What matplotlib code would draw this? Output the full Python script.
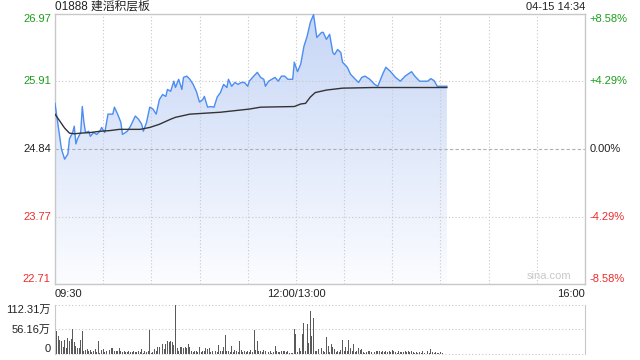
import numpy as np
import matplotlib
matplotlib.use("Agg")
import matplotlib.pyplot as plt
from matplotlib.patches import Polygon
from matplotlib.transforms import blended_transform_factory

plt.rcParams['font.family'] = ['Liberation Sans', 'Noto Sans CJK SC', 'DejaVu Sans']

# ---------------- data ----------------
title_text = "01888 建滔积层板"
stamp_text = "04-15 14:34"
prev_close = 24.84
price_ticks = [22.71, 23.77, 24.84, 25.91, 26.97]
pct_labels = ["-8.58%", "-4.29%", "0.00%", "+4.29%", "+8.58%"]
time_ticks = [0, 150, 330]
time_labels = ["09:30", "12:00/13:00", "16:00"]
vol_ticks = [0, 56.16, 112.31]
vol_labels = ["0", "56.16万", "112.31万"]
watermark = "sina.com"

# minutes since 09:30 (lunch break removed)
price_min = [0, 4, 6, 8, 9, 11, 12, 13, 14, 16, 17, 18, 19, 21, 22, 24, 26, 28, 29, 31,
             33, 36, 37, 39, 41, 42, 45, 47, 50, 52, 54, 55, 57, 59, 61, 63, 65, 67, 69, 70,
             72, 74, 75, 77, 79, 80, 82, 84, 86, 88, 90, 92, 93, 95, 97, 99, 101, 103, 105, 107,
             108, 110, 112, 114, 116, 118, 120, 121, 123, 126, 128, 130, 131, 133, 135, 137, 139, 141, 143, 145,
             146, 148, 149, 151, 153, 155, 157, 159, 161, 163, 166, 167, 169, 171, 173, 174, 176, 178, 179, 182,
             184, 187, 189, 191, 193, 196, 199, 201, 204, 206, 209, 212, 215, 218, 222, 224, 227, 232, 234, 236,
             238, 241, 244]
price = [25.56, 24.84, 24.68, 24.76, 25.00, 25.10, 25.20, 24.92, 25.00, 25.10, 25.51, 25.26, 25.10, 25.12, 25.04, 25.10, 25.07, 25.12, 25.18, 25.10,
         25.39, 25.39, 25.50, 25.39, 25.26, 25.07, 25.12, 25.20, 25.36, 25.31, 25.23, 25.12, 25.26, 25.50, 25.47, 25.39, 25.62, 25.70, 25.67, 25.78,
         25.75, 25.91, 25.81, 25.94, 25.78, 25.97, 25.99, 25.94, 25.86, 25.75, 25.58, 25.62, 25.67, 25.50, 25.51, 25.50, 25.66, 25.73, 25.86, 25.81,
         25.94, 25.83, 25.89, 25.86, 25.89, 25.89, 25.83, 25.91, 25.97, 26.05, 25.97, 25.94, 25.83, 25.91, 25.94, 25.97, 25.91, 25.99, 25.99, 25.94,
         25.94, 25.94, 26.21, 26.06, 26.18, 26.46, 26.62, 26.84, 26.96, 26.60, 26.68, 26.68, 26.57, 26.65, 26.36, 26.33, 26.41, 26.36, 26.21, 26.13,
         26.02, 25.94, 25.89, 25.97, 25.99, 25.94, 25.86, 25.83, 26.02, 26.13, 26.06, 25.97, 25.91, 25.99, 26.06, 25.99, 25.91, 25.91, 25.95, 25.92,
         25.83, 25.83, 25.83]

avg_min = [0, 3, 6, 9, 12, 16, 22, 28, 34, 40, 53, 59, 65, 72, 75, 84, 103, 121, 128, 149,
           153, 156, 159, 162, 169, 179, 198, 244]
avg = [25.39, 25.28, 25.17, 25.09, 25.08, 25.09, 25.10, 25.12, 25.13, 25.15, 25.15, 25.18, 25.23, 25.31, 25.34, 25.39, 25.42, 25.47, 25.50, 25.51,
       25.55, 25.56, 25.66, 25.73, 25.77, 25.80, 25.81, 25.81]

# volume per minute (万股), starting 09:30
vol = [90, 52, 42, 31, 29, 17, 33, 14, 36, 29, 35, 57, 27, 19, 14, 14, 33, 52, 8, 10,
       12, 8, 10, 4, 8, 12, 4, 30, 2, 10, 12, 4, 6, 16, 10, 14, 14, 8, 6, 6,
       14, 6, 4, 6, 4, 4, 6, 4, 4, 6, 4, 4, 6, 4, 12, 2, 6, 4, 6, 55,
       2, 4, 11, 6, 17, 17, 44, 24, 11, 24, 29, 27, 30, 27, 21, 112, 14, 6, 16, 15,
       14, 17, 14, 24, 16, 6, 4, 8, 8, 4, 16, 4, 6, 8, 14, 11, 14, 4, 8, 16,
       6, 4, 21, 6, 8, 16, 44, 6, 8, 4, 19, 4, 10, 6, 4, 30, 10, 4, 6, 4,
       6, 4, 10, 4, 54, 10, 30, 6, 8, 5, 10, 8, 2, 4, 6, 2, 4, 19, 6, 4,
       4, 6, 8, 8, 4, 6, 2, 2, 2, 58, 46, 4, 14, 6, 46, 72, 8, 69, 25, 99,
       42, 83, 6, 6, 11, 19, 14, 6, 4, 39, 19, 4, 24, 16, 11, 4, 6, 4, 10, 33,
       6, 16, 6, 33, 14, 6, 24, 4, 6, 14, 10, 11, 4, 2, 4, 6, 8, 4, 16, 4,
       8, 6, 8, 4, 6, 4, 6, 4, 6, 4, 10, 6, 4, 2, 6, 4, 4, 4, 6, 4,
       6, 4, 8, 4, 2, 4, 2, 4, 2, 6, 2, 4, 8, 2, 11, 4, 2, 4, 2, 2,
       4, 2]
vol_min = list(range(len(vol)))

# ---------------- figure ----------------
fig = plt.figure(figsize=(6.4, 3.6), dpi=100)
W, H = 640.0, 360.0
L, R = 55, 585
ax = fig.add_axes([L / W, (H - 284) / H, (R - L) / W, 270 / H])
axv = fig.add_axes([L / W, (H - 354) / H, (R - L) / W, 49 / H])

green = '#1a9e1a'
red = '#ee2b2b'
dark = '#222222'
grid_c = '#c8c8c8'
spine_c = '#c8c8c8'

ylo, yhi = price_ticks[0], price_ticks[-1]
ax.set_xlim(0, 330)
ax.set_ylim(ylo, yhi)

# gradient fill under the price line
verts = list(zip(price_min, price)) + [(price_min[-1], ylo), (price_min[0], ylo)]
poly = Polygon(verts, closed=True, facecolor='none', edgecolor='none')
ax.add_patch(poly)
g = np.linspace(0, 1, 256).reshape(-1, 1, 1)
top_c = np.array([0.78, 0.84, 0.965])
bot_c = np.array([0.985, 0.99, 1.0])
img = top_c * (1 - g) + bot_c * g
im = ax.imshow(img, extent=[0, 330, ylo, yhi], aspect='auto', origin='upper', zorder=1)
im.set_clip_path(poly)

# grid (drawn over the fill)
for m in range(30, 330, 30):
    ax.axvline(m, color=grid_c, lw=0.8, ls=(0, (1, 2)), zorder=2)
for p in price_ticks[1:-1]:
    if p == prev_close:
        ax.axhline(p, color='#b0b0b0', lw=0.8, ls=(0, (3, 2)), zorder=2)
    else:
        ax.axhline(p, color=grid_c, lw=0.8, ls=(0, (1, 2)), zorder=2)

ax.plot(price_min, price, color='#4b8df0', lw=1.0, zorder=3)
ax.plot(avg_min, avg, color='#333333', lw=1.0, zorder=4)

for s in ax.spines.values():
    s.set_color(spine_c)
    s.set_linewidth(1.0)
ax.tick_params(length=0)
ax.set_xticks([])
ax.set_yticks([])

# left price labels and right percent labels
colors = [red, red, dark, green, green]
ytr = ax.transData
for i, (p, lab, c) in enumerate(zip(price_ticks, pct_labels, colors)):
    va = 'center'
    if i == 0:
        va = 'bottom'
    elif i == len(price_ticks) - 1:
        va = 'top'
    ax.text(-0.008, p, f"{p:.2f}", transform=blended_transform_factory(ax.transAxes, ytr),
            ha='right', va=va, color=c, fontsize=8)
    ax.text(1.008, p, lab, transform=blended_transform_factory(ax.transAxes, ytr),
            ha='left', va=va, color=c, fontsize=8)

# time labels
has = ['left', 'center', 'right']
for t, lab, ha in zip(time_ticks, time_labels, has):
    ax.text(t, -0.018, lab, transform=blended_transform_factory(ax.transData, ax.transAxes),
            ha=ha, va='top', color=dark, fontsize=8)

# title and stamp
fig.text(L / W, 1 - 7 / H, title_text, ha='left', va='center', fontsize=8.5, color=dark)
fig.text(R / W, 1 - 7 / H, stamp_text, ha='right', va='center', fontsize=8, color=dark)

ax.text(0.975, 0.012, watermark, transform=ax.transAxes, ha='right', va='bottom',
        color='#c8c8c8', fontsize=8)

# volume panel
axv.set_xlim(0, 330)
axv.set_ylim(0, vol_ticks[-1])
axv.bar(vol_min, vol, width=0.6, color='#5a5a5a', zorder=3)
for v in vol_ticks:
    axv.axhline(v, color=grid_c, lw=0.8, ls=(0, (1, 2)), zorder=0.5, clip_on=False)
axv.spines['top'].set_visible(False)
axv.spines['bottom'].set_visible(False)
axv.spines['left'].set_color(spine_c)
axv.spines['right'].set_color(spine_c)
axv.set_xticks([])
axv.set_yticks([])
for i, (v, lab) in enumerate(zip(vol_ticks, vol_labels)):
    va = 'center'
    if i == 0:
        va = 'bottom'
    elif i == len(vol_ticks) - 1:
        va = 'top'
    axv.text(-0.008, v, lab, transform=blended_transform_factory(axv.transAxes, axv.transData),
             ha='right', va=va, color=dark, fontsize=8)

fig.savefig("out.png", dpi=100)
